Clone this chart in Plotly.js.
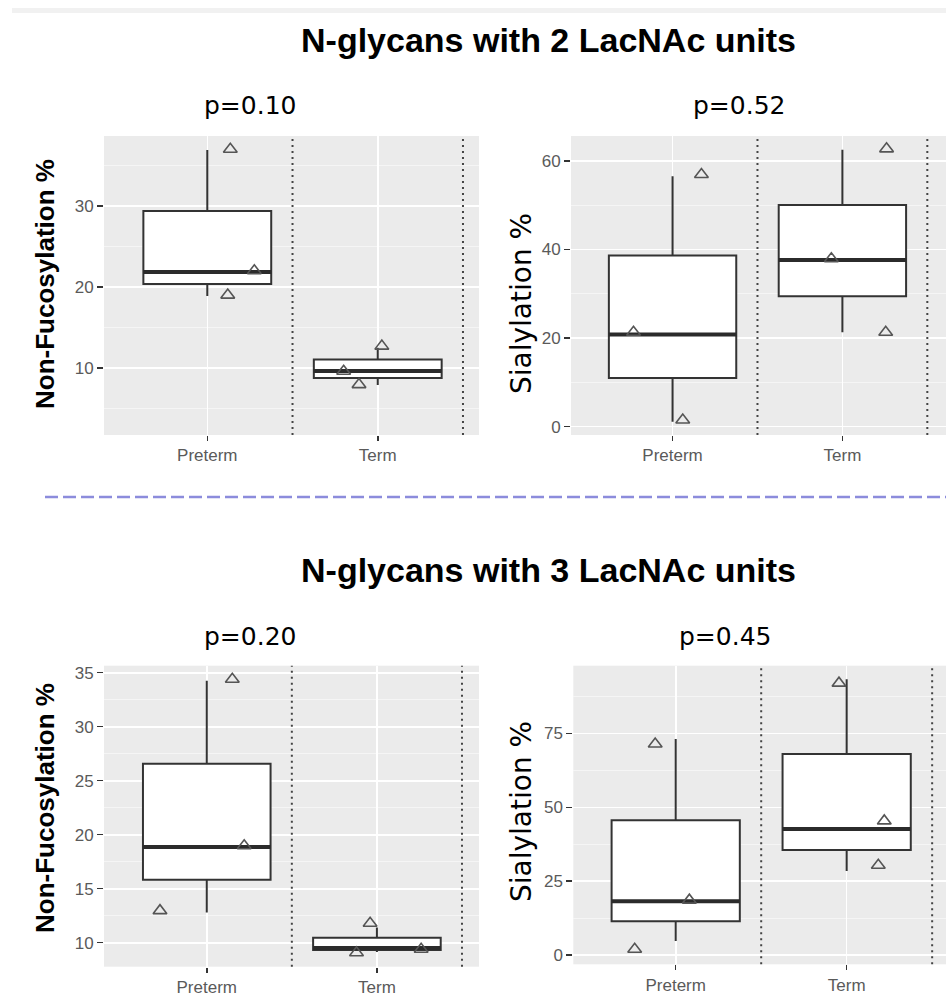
<!DOCTYPE html>
<html>
<head>
<meta charset="utf-8">
<script src="https://cdn.plot.ly/plotly-3.0.1.min.js"></script>
<style>html,body{margin:0;padding:0;background:#fff;}#chart{width:946px;height:996px;}</style>
</head>
<body>
<div id="chart"></div>
<script>
// ---------------- DATA ----------------
const categories = ['Preterm', 'Term'];

// values used for the boxplots (3 samples per group)
const nonFuc2Preterm = [18.9, 21.85, 36.9];
const nonFuc2Term    = [7.9, 9.63, 12.5];
const sial2Preterm   = [1.1, 20.8, 56.5];
const sial2Term      = [21.3, 37.6, 62.5];
const nonFuc3Preterm = [12.8, 18.86, 34.26];
const nonFuc3Term    = [9.14, 9.5, 11.4];
const sial3Preterm   = [4.8, 18.2, 73.1];
const sial3Term      = [28.5, 42.7, 93.3];

// jittered points as drawn (y value and horizontal jitter in category units)
const nonFuc2PretermPts = [19.0, 22.0, 37.0];  const nonFuc2PretermJit = [0.12, 0.276, 0.135];
const nonFuc2TermPts    = [7.95, 9.6, 12.7];   const nonFuc2TermJit    = [-0.11, -0.2, 0.024];
const sial2PretermPts   = [1.5, 21.3, 56.9];   const sial2PretermJit   = [0.06, -0.23, 0.17];
const sial2TermPts      = [21.3, 37.9, 62.7];  const sial2TermJit      = [0.255, -0.065, 0.26];
const nonFuc3PretermPts = [12.97, 18.98, 34.4];const nonFuc3PretermJit = [-0.275, 0.22, 0.15];
const nonFuc3TermPts    = [9.07, 9.4, 11.8];   const nonFuc3TermJit    = [-0.12, 0.26, -0.04];
const sial3PretermPts   = [2.0, 18.6, 71.4];   const sial3PretermJit   = [-0.24, 0.08, -0.12];
const sial3TermPts      = [30.4, 45.4, 92.0];  const sial3TermJit      = [0.185, 0.22, -0.045];

const sectionTitles = ['N-glycans with 2 LacNAc units', 'N-glycans with 3 LacNAc units'];
const pValues = ['p=0.10', 'p=0.52', 'p=0.20', 'p=0.45'];
const yTitles = ['Non-Fucosylation %', 'Sialylation %', 'Non-Fucosylation %', 'Sialylation %'];

// ---------------- BUILD ----------------
const W = 946, H = 996;
const px = v => v / W;
const py = v => 1 - v / H;
const BOXW = 0.75;

function median(a) {
  const s = a.slice().sort((p, q) => p - q);
  const m = Math.floor(s.length / 2);
  return s.length % 2 ? s[m] : (s[m - 1] + s[m]) / 2;
}

const panels = [
  {ax: '', groups: [[nonFuc2Preterm, nonFuc2PretermPts, nonFuc2PretermJit], [nonFuc2Term, nonFuc2TermPts, nonFuc2TermJit]]},
  {ax: '2', groups: [[sial2Preterm, sial2PretermPts, sial2PretermJit], [sial2Term, sial2TermPts, sial2TermJit]]},
  {ax: '3', groups: [[nonFuc3Preterm, nonFuc3PretermPts, nonFuc3PretermJit], [nonFuc3Term, nonFuc3TermPts, nonFuc3TermJit]]},
  {ax: '4', groups: [[sial3Preterm, sial3PretermPts, sial3PretermJit], [sial3Term, sial3TermPts, sial3TermJit]]}
];

const traces = [];
const shapes = [];
panels.forEach(p => {
  p.groups.forEach((g, i) => {
    traces.push({
      type: 'box', y: g[0], x0: i, xaxis: 'x' + p.ax, yaxis: 'y' + p.ax,
      width: BOXW, quartilemethod: 'inclusive', boxpoints: false, whiskerwidth: 0,
      fillcolor: '#ffffff', line: {color: '#333333', width: 2}, hoverinfo: 'skip'
    });
    // thicker median bar (ggplot style)
    const md = median(g[0]);
    traces.push({
      type: 'scatter', mode: 'lines', x: [i - BOXW / 2, i + BOXW / 2], y: [md, md],
      xaxis: 'x' + p.ax, yaxis: 'y' + p.ax, line: {color: '#2b2b2b', width: 4}, hoverinfo: 'skip'
    });
    traces.push({
      type: 'scatter', mode: 'markers',
      x: g[2].map(j => i + j), y: g[1], xaxis: 'x' + p.ax, yaxis: 'y' + p.ax,
      marker: {symbol: 'triangle-up-open', size: 12, color: '#555555', line: {width: 1.6, color: '#555555'}},
      hoverinfo: 'skip'
    });
    shapes.push({
      type: 'line', xref: 'x' + p.ax, yref: 'y' + p.ax + ' domain',
      x0: i + 0.5, x1: i + 0.5, y0: 0, y1: 1,
      line: {color: '#444444', width: 2, dash: '2px,4px'}
    });
  });
});

// separator line and faint top band
shapes.push({type: 'line', xref: 'paper', yref: 'paper', x0: px(45), x1: 1, y0: py(497), y1: py(497),
  line: {color: '#8c8cdc', width: 2.5, dash: '13px,5px'}});
shapes.push({type: 'rect', xref: 'paper', yref: 'paper', x0: px(12), x1: 1, y0: py(13), y1: py(8),
  fillcolor: '#f1f1f1', line: {width: 0}});

const tickFont = {family: 'Liberation Sans, Arial, sans-serif', size: 17, color: '#5a5a5a'};
function xAx(d, r) {
  return {domain: d, range: r, tickmode: 'array', tickvals: categories.map((c, i) => i), ticktext: categories,
    showgrid: true, gridcolor: '#ffffff', gridwidth: 1.6, zeroline: false, showline: false,
    ticks: 'outside', ticklen: 5, tickwidth: 1.5, tickcolor: '#333333', tickfont: tickFont, fixedrange: true};
}
function yAx(d, r, dt, mdt) {
  return {domain: d, range: r, tick0: 0, dtick: dt, showgrid: true, gridcolor: '#ffffff', gridwidth: 1.6,
    minor: {tick0: 0, dtick: mdt, showgrid: true, gridcolor: '#f7f7f7', gridwidth: 0.8, ticks: ''},
    zeroline: false, showline: false, ticks: 'outside', ticklen: 6, tickwidth: 1.5, tickcolor: '#333333',
    tickfont: tickFont, fixedrange: true};
}

const ann = [];
const titleFont = {family: 'Liberation Sans, Arial, sans-serif', size: 34, color: '#000000'};
ann.push({text: '<b>' + sectionTitles[0] + '</b>', x: px(548), y: py(40), xref: 'paper', yref: 'paper', showarrow: false, xanchor: 'center', yanchor: 'middle', font: titleFont});
ann.push({text: '<b>' + sectionTitles[1] + '</b>', x: px(548), y: py(570), xref: 'paper', yref: 'paper', showarrow: false, xanchor: 'center', yanchor: 'middle', font: titleFont});

const pFont = {family: 'DejaVu Sans, sans-serif', size: 25, color: '#000000'};
const pPos = [[250, 106], [739, 106], [250, 636], [725, 636]];
pValues.forEach((t, k) => ann.push({text: t, x: px(pPos[k][0]), y: py(pPos[k][1]), xref: 'paper', yref: 'paper', showarrow: false, xanchor: 'center', yanchor: 'middle', font: pFont}));

const yPos = [[45, 284], [521, 304], [45, 808], [521, 812]];
yTitles.forEach((t, k) => {
  const bold = (k % 2 === 0);
  ann.push({text: bold ? '<b>' + t + '</b>' : t, x: px(yPos[k][0]), y: py(yPos[k][1]), xref: 'paper', yref: 'paper',
    showarrow: false, xanchor: 'center', yanchor: 'middle', textangle: -90,
    font: bold ? {family: 'Liberation Sans, Arial, sans-serif', size: 26, color: '#000000'} : {family: 'DejaVu Sans, sans-serif', size: 28, color: '#000000'}});
});

const layout = {
  width: W, height: H, margin: {l: 0, r: 0, t: 0, b: 0},
  paper_bgcolor: '#ffffff', plot_bgcolor: '#ebebeb', showlegend: false,
  xaxis:  Object.assign(xAx([px(104), px(479)], [-0.606, 1.594]), {anchor: 'y'}),
  yaxis:  Object.assign(yAx([py(435), py(136)], [1.73, 38.64], 10, 5), {anchor: 'x'}),
  xaxis2: Object.assign(xAx([px(571), 1], [-0.598, 1.61]), {anchor: 'y2'}),
  yaxis2: Object.assign(yAx([py(435), py(136)], [-1.9, 65.6], 20, 10), {anchor: 'x2'}),
  xaxis3: Object.assign(xAx([px(104), px(479)], [-0.604, 1.6]), {anchor: 'y3'}),
  yaxis3: Object.assign(yAx([py(966.7), py(665.7)], [7.78, 35.65], 5, 2.5), {anchor: 'x3'}),
  xaxis4: Object.assign(xAx([px(573.3), 1], [-0.599, 1.581]), {anchor: 'y4'}),
  yaxis4: Object.assign(yAx([py(964.3), py(665.7)], [-3.1, 97.9], 25, 12.5), {anchor: 'x4'}),
  shapes: shapes, annotations: ann
};

Plotly.newPlot('chart', traces, layout, {displayModeBar: false, staticPlot: true});
</script>
</body>
</html>
